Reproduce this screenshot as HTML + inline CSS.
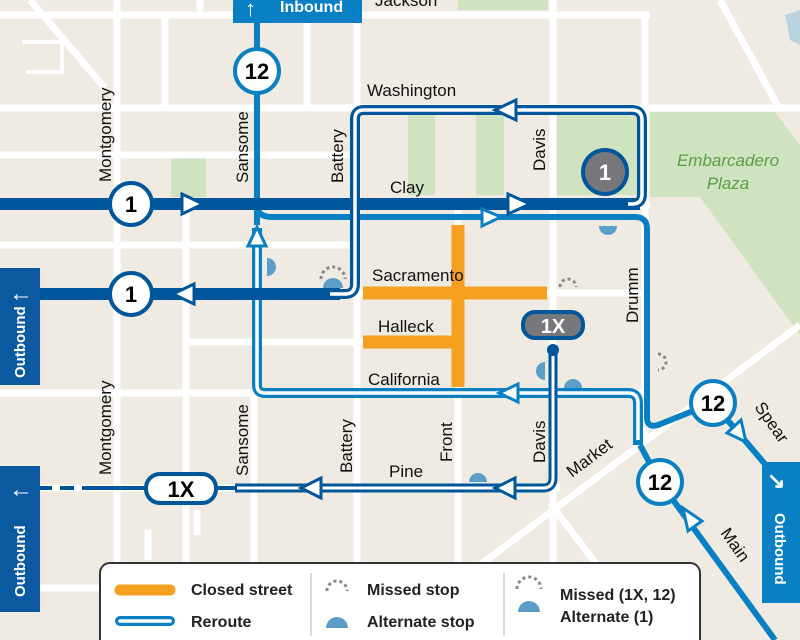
<!DOCTYPE html>
<html><head><meta charset="utf-8"><style>
html,body{margin:0;padding:0;background:#efebe2}
svg{display:block}
text{font-family:"Liberation Sans",sans-serif}
</style></head><body>
<svg width="800" height="640" viewBox="0 0 800 640" xmlns="http://www.w3.org/2000/svg">
<rect width="800" height="640" fill="#efebe2"/>
<g fill="#cfe3c0">
<rect x="458" y="0" width="90" height="10"/>
<rect x="408" y="115" width="27" height="80"/>
<rect x="476" y="115" width="28" height="80"/>
<rect x="557" y="115" width="85" height="80"/>
<rect x="171" y="155" width="35" height="42"/>
<polygon points="650,112 775,112 800,145 800,335 700,197 650,197"/>
</g>
<polygon points="785,15 800,10 800,45 790,40" fill="#b9d3df"/>
<g stroke="#fff" stroke-width="7" fill="none">
<line x1="0" y1="15" x2="650" y2="15"/>
<line x1="0" y1="108" x2="800" y2="108"/>
<line x1="0" y1="155" x2="360" y2="155"/>
<line x1="0" y1="205" x2="650" y2="205"/>
<line x1="0" y1="245" x2="360" y2="245"/>
<line x1="0" y1="293" x2="650" y2="293"/>
<line x1="185" y1="342" x2="460" y2="342"/>
<line x1="0" y1="393" x2="650" y2="393"/>
<line x1="0" y1="488" x2="560" y2="488"/>
<line x1="0" y1="588" x2="110" y2="588"/>
<line x1="117" y1="0" x2="117" y2="640"/>
<line x1="165" y1="15" x2="165" y2="108"/>
<line x1="186" y1="200" x2="186" y2="640"/>
<line x1="307" y1="15" x2="307" y2="108"/>
<line x1="357" y1="15" x2="357" y2="640"/>
<line x1="254" y1="393" x2="254" y2="640"/>
<line x1="458" y1="205" x2="458" y2="640"/>
<line x1="553" y1="0" x2="553" y2="590"/>
<line x1="645" y1="15" x2="645" y2="440"/>
<line x1="200" y1="0" x2="200" y2="15"/>
<line x1="30" y1="0" x2="105" y2="88"/>
<line x1="720" y1="0" x2="780" y2="110"/>
<line x1="780" y1="108" x2="800" y2="108"/>
<line x1="420" y1="610" x2="800" y2="325"/>
<line x1="550" y1="503" x2="597" y2="565"/>
<line x1="148" y1="530" x2="148" y2="560"/>
<line x1="197" y1="510" x2="197" y2="535"/>
</g>
<g stroke="#fff" stroke-width="4" fill="none">
<polyline points="22,42 62,42 62,72 26,72"/>
</g>
<g stroke="#f5a020" stroke-width="13" fill="none">
<line x1="458" y1="225" x2="458" y2="387"/>
<line x1="363" y1="293" x2="547" y2="293"/>
<line x1="363" y1="342" x2="458" y2="342"/>
</g>
<g stroke="#0a80c4" stroke-width="6" fill="none" stroke-linejoin="round">
<line x1="257" y1="10" x2="257" y2="225"/>
<path d="M257,205 Q257,217 272,217 L635,217 Q647,217 647,229 L647,418 Q647,428 658,425 L713,403"/>
<line x1="713" y1="403" x2="770" y2="470"/>
<path d="M640,445 L660,482 L775,640"/>
</g>
<g fill="none" stroke-linejoin="round">
<path d="M257,228 L257,385 Q257,393 265,393 L628,393 Q638,393 638,403 L638,445" stroke="#0a80c4" stroke-width="10"/>
<path d="M257,228 L257,385 Q257,393 265,393 L628,393 Q638,393 638,403 L638,440" stroke="#fff" stroke-width="3.5"/>
</g>
<g fill="none" stroke="#00569a" stroke-width="12">
<line x1="0" y1="204" x2="640" y2="204"/>
<line x1="40" y1="294" x2="340" y2="294"/>
</g>
<g fill="none" stroke-linejoin="round">
<path d="M330,294 L345,294 Q355,294 355,284 L355,119 Q355,110 364,110 L632,110 Q642,110 642,120 L642,194 Q642,204 632,204 L625,204" stroke="#00569a" stroke-width="10"/>
<path d="M330,294 L345,294 Q355,294 355,284 L355,119 Q355,110 364,110 L632,110 Q642,110 642,120 L642,194 Q642,204 632,204 L628,204" stroke="#fff" stroke-width="3.5"/>
</g>
<g fill="none" stroke-linejoin="round">
<path d="M553,350 L553,478 Q553,488 543,488 L235,488" stroke="#00569a" stroke-width="9"/>
<path d="M553,352 L553,478 Q553,488 543,488 L237,488" stroke="#fff" stroke-width="3"/>
<line x1="90" y1="488" x2="235" y2="488" stroke="#00569a" stroke-width="4"/>
<line x1="38" y1="488" x2="90" y2="488" stroke="#00569a" stroke-width="4" stroke-dasharray="14,8"/>
</g>
<circle cx="553" cy="350" r="6" fill="#00569a"/>
<g stroke-width="3" fill="#fff" stroke-linejoin="miter">
<polygon points="182,194 182,214 203,204" stroke="#00569a"/>
<polygon points="508,194 508,214 530,204" stroke="#00569a"/>
<polygon points="194,284 194,304 173,294" stroke="#00569a"/>
<polygon points="516,100 516,120 495,110" stroke="#00569a"/>
<polygon points="482,209 482,226 501,217" stroke="#0a80c4"/>
<polygon points="248,246 266,246 257,227" stroke="#0a80c4"/>
<polygon points="518,384 518,402 499,393" stroke="#0a80c4"/>
<polygon points="321,478 321,498 301,488" stroke="#00569a"/>
<polygon points="515,478 515,498 495,488" stroke="#00569a"/>
<polygon points="727,433 741,420 746,442" stroke="#0a80c4"/>
<polygon points="702,521 688,531 683,508" stroke="#0a80c4"/>
</g>
<g fill="#5b9fc9">
<path d="M267,258 A9,9 0 0 1 267,276 Z"/>
<path d="M599,226 A9,9 0 0 0 617,226 Z"/>
<path d="M564,388 A9,9 0 0 1 582,388 Z"/>
<path d="M469,482 A9,9 0 0 1 487,482 Z"/>
<path d="M545,362 A9,9 0 0 0 545,380 Z"/>
<path d="M323,288 A10,10 0 0 1 343,288 Z"/>
</g>
<g fill="none" stroke="#888" stroke-width="3" stroke-dasharray="3,3">
<path d="M560,287 A8,8 0 0 1 576,287"/>
<path d="M321,279 A12,12 0 0 1 345,279"/>
<path d="M658,354 A8,8 0 0 1 658,370"/>
</g>
<g stroke-width="4">
<circle cx="131" cy="204" r="21" fill="#fff" stroke="#00569a"/>
<circle cx="131" cy="294" r="21" fill="#fff" stroke="#00569a"/>
<circle cx="605" cy="172" r="22" fill="#77787b" stroke="#00569a"/>
<circle cx="257" cy="71" r="22" fill="#fff" stroke="#0a80c4"/>
<circle cx="713" cy="403" r="22" fill="#fff" stroke="#0a80c4"/>
<circle cx="660" cy="482" r="22" fill="#fff" stroke="#0a80c4"/>
<rect x="146" y="474" width="70" height="29" rx="14" fill="#fff" stroke="#00569a"/>
<rect x="523" y="312" width="60" height="26" rx="12" fill="#77787b" stroke="#00569a"/>
</g>
<g font-weight="bold" text-anchor="middle" font-size="22">
<text x="131" y="212">1</text>
<text x="131" y="302">1</text>
<text x="605" y="180" fill="#fff">1</text>
<text x="257" y="79">12</text>
<text x="713" y="411">12</text>
<text x="660" y="490">12</text>
<text x="181" y="497">1X</text>
<text x="553" y="333" fill="#fff" font-size="20">1X</text>
</g>
<rect x="0" y="268" width="40" height="117" fill="#0b5aa0"/>
<rect x="0" y="466" width="40" height="146" fill="#0b5aa0"/>
<rect x="233" y="0" width="129" height="23" fill="#0a80c4"/>
<rect x="762" y="462" width="38" height="141" fill="#0a80c4"/>
<g fill="#fff" font-weight="bold" font-size="15">
<text x="9" y="301" font-size="24">←</text>
<text x="9" y="497" font-size="24">←</text>
<text transform="translate(25,378) rotate(-90)">Outbound</text>
<text transform="translate(25,597) rotate(-90)">Outbound</text>
<text x="280" y="12" font-size="16">Inbound</text>
<text x="245" y="16" font-size="22">↑</text>
<text x="767" y="488" font-size="22">↘</text>
<text transform="translate(775,513) rotate(90)">Outbound</text>
</g>
<g font-size="17" fill="#111">
<text x="375" y="6">Jackson</text>
<text x="367" y="96">Washington</text>
<text x="390" y="193">Clay</text>
<text x="372" y="281">Sacramento</text>
<text x="378" y="332">Halleck</text>
<text x="368" y="385">California</text>
<text x="389" y="477">Pine</text>
<text transform="translate(111,182) rotate(-90)">Montgomery</text>
<text transform="translate(111,475) rotate(-90)">Montgomery</text>
<text transform="translate(248,183) rotate(-90)">Sansome</text>
<text transform="translate(248,476) rotate(-90)">Sansome</text>
<text transform="translate(343,183) rotate(-90)">Battery</text>
<text transform="translate(352,473) rotate(-90)">Battery</text>
<text transform="translate(545,171) rotate(-90)">Davis</text>
<text transform="translate(545,463) rotate(-90)">Davis</text>
<text transform="translate(452,462) rotate(-90)">Front</text>
<text transform="translate(638,323) rotate(-90)">Drumm</text>
<text transform="translate(572,478) rotate(-37)">Market</text>
<text transform="translate(754,407) rotate(55)">Spear</text>
<text transform="translate(720,533) rotate(55)">Main</text>
<text x="728" y="166" fill="#5a9e44" font-style="italic" text-anchor="middle">Embarcadero</text>
<text x="728" y="189" fill="#5a9e44" font-style="italic" text-anchor="middle">Plaza</text>
</g>
<rect x="100" y="563" width="600" height="90" rx="10" fill="#fff" stroke="#333" stroke-width="2"/>
<line x1="311" y1="573" x2="311" y2="636" stroke="#ccc" stroke-width="1.5"/>
<line x1="504" y1="573" x2="504" y2="636" stroke="#ccc" stroke-width="1.5"/>
<line x1="120" y1="590" x2="170" y2="590" stroke="#f5a020" stroke-width="11" stroke-linecap="round"/>
<line x1="120" y1="621" x2="170" y2="621" stroke="#0a80c4" stroke-width="10" stroke-linecap="round"/>
<line x1="120" y1="621" x2="170" y2="621" stroke="#fff" stroke-width="3.5" stroke-linecap="round"/>
<path d="M327,591 A10,10 0 0 1 347,591" fill="none" stroke="#888" stroke-width="3" stroke-dasharray="3,3"/>
<path d="M326,628 A11,11 0 0 1 348,628 Z" fill="#5b9fc9"/>
<path d="M517,589 A12,12 0 0 1 541,589" fill="none" stroke="#888" stroke-width="3" stroke-dasharray="3,3"/>
<path d="M518,612 A11,11 0 0 1 540,612 Z" fill="#5b9fc9"/>
<g font-size="16" font-weight="bold" fill="#222">
<text x="191" y="595">Closed street</text>
<text x="191" y="627">Reroute</text>
<text x="367" y="595">Missed stop</text>
<text x="367" y="627">Alternate stop</text>
<text x="560" y="600">Missed (1X, 12)</text>
<text x="560" y="622">Alternate (1)</text>
</g>
</svg>
</body></html>
